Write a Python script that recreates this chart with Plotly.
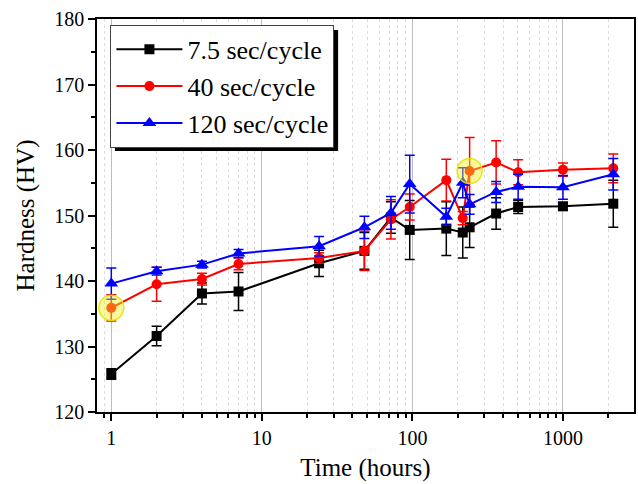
import plotly.graph_objects as go

time_h = [1, 2, 4, 7, 24, 48, 72, 96, 168, 216, 240, 360, 504, 1000, 2160]

hv_75 = [125.8, 131.6, 138.1, 138.4, 142.7, 144.6, 149.7, 147.8, 148.0, 147.4, 148.2, 150.3, 151.3, 151.4, 151.8]
err_75 = [0.8, 1.5, 1.6, 2.9, 2.0, 2.8, 2.4, 4.5, 4.1, 3.9, 3.1, 2.4, 1.0, 0.6, 3.6]

hv_40 = [135.9, 139.5, 140.3, 142.6, 143.5, 144.6, 149.4, 151.3, 155.4, 149.6, 156.8, 158.1, 156.6, 157.0, 157.2]
err_40 = [2.0, 2.6, 0.9, 0.9, 0.8, 3.0, 3.0, 2.0, 3.2, 1.0, 5.1, 3.3, 1.9, 1.0, 2.2]

hv_120 = [139.6, 141.5, 142.5, 144.2, 145.3, 148.2, 150.4, 154.8, 149.8, 155.0, 151.7, 153.6, 154.4, 154.3, 156.3]
err_120 = [2.4, 0.6, 0.5, 0.6, 1.5, 1.7, 2.5, 4.4, 1.3, 2.3, 1.5, 1.6, 1.9, 1.8, 2.4]

highlight_idx = [0, 10]

series = [
    ("7.5 sec/cycle", hv_75, err_75, "#000000", "square", 10),
    ("40 sec/cycle", hv_40, err_40, "#ff0000", "circle", 10),
    ("120 sec/cycle", hv_120, err_120, "#0000ff", "triangle-up", 12),
]

FONT = "Liberation Serif, Times New Roman, serif"

fig = go.Figure()
for name, ys, es, col, sym, sz in series:
    fig.add_trace(go.Scatter(
        x=time_h, y=ys, name=name, mode="lines+markers",
        line=dict(color=col, width=2),
        marker=dict(symbol=sym, size=sz, color=col),
        error_y=dict(type="data", array=es, visible=True, color=col, thickness=1.5, width=5),
    ))

fig.add_trace(go.Scatter(
    x=[time_h[i] for i in highlight_idx], y=[hv_40[i] for i in highlight_idx],
    mode="markers", showlegend=False, hoverinfo="skip",
    marker=dict(symbol="circle", size=25, color="rgba(238,238,40,0.45)",
                line=dict(color="rgba(230,230,0,0.9)", width=1.5)),
))

fig.update_layout(
    width=638, height=484,
    margin=dict(l=97, r=2, t=19, b=72),
    paper_bgcolor="white", plot_bgcolor="white",
    font=dict(family=FONT, size=20, color="#000"),
    showlegend=True,
    legend=dict(
        x=0.025, y=0.985, xanchor="left", yanchor="top",
        bgcolor="white", bordercolor="#444", borderwidth=1,
        font=dict(family=FONT, size=26, color="#000"),
        itemwidth=66, tracegroupgap=0,
    ),
    shapes=[dict(type="rect", xref="paper", yref="paper",
                 x0=0.0334, x1=0.449, y0=0.664, y1=0.972,
                 fillcolor="#000", line=dict(width=0), layer="above")],
)

fig.update_xaxes(
    type="log", range=[-0.095, 3.472],
    title=dict(text="Time (hours)", font=dict(family=FONT, size=25), standoff=11),
    tickvals=[1, 10, 100, 1000], ticktext=["1", "10", "100", "1000"],
    ticks="outside", ticklen=7, tickwidth=1.5, tickcolor="#000",
    showline=True, linecolor="#000", linewidth=1.5, mirror=True,
    showgrid=True, gridcolor="#bdbdbd", gridwidth=1,
    minor=dict(tickvals=[0.9, 2, 3, 4, 5, 6, 7, 8, 9, 20, 30, 40, 50, 60, 70, 80, 90,
                         200, 300, 400, 500, 600, 700, 800, 900, 2000, 3000],
               ticks="outside", ticklen=4, tickwidth=1.5, tickcolor="#000",
               showgrid=True, gridcolor="#dcdcdc", griddash="dot", gridwidth=1),
    zeroline=False,
)
fig.update_yaxes(
    range=[120, 180], dtick=10, tick0=120,
    title=dict(text="Hardness (HV)", font=dict(family=FONT, size=25), standoff=13),
    ticks="outside", ticklen=7, tickwidth=1.5, tickcolor="#000",
    showline=True, linecolor="#000", linewidth=1.5, mirror=True,
    showgrid=False, zeroline=False,
    minor=dict(dtick=5, ticks="outside", ticklen=4, tickwidth=1.5, tickcolor="#000", showgrid=False),
)

fig.write_html("out.html")
